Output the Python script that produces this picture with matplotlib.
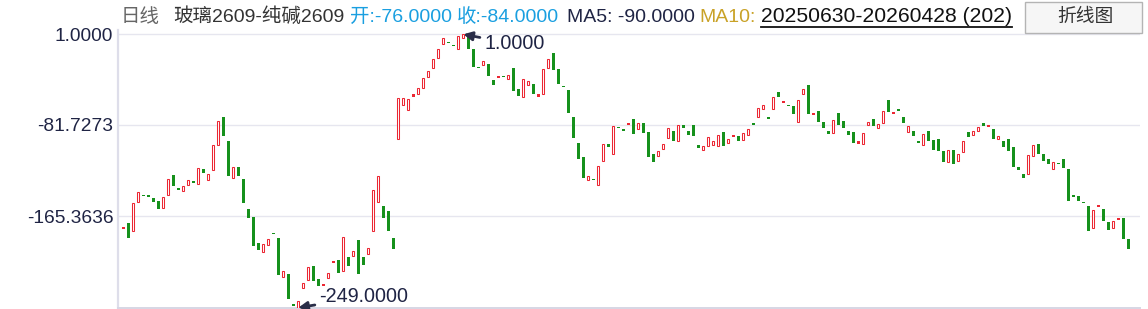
import matplotlib
matplotlib.use('Agg')
import matplotlib.pyplot as plt
from matplotlib.patches import Rectangle
from matplotlib.lines import Line2D

# ---------------- data ----------------
opens = [-177, -172, -179, -152, -146, -146, -149, -151, -158, -146,
         -128, -141, -142, -137, -133, -136, -122, -132, -123, -100,
         -75, -97, -130, -120, -131, -159, -166, -190, -198, -192,
         -182, -185, -221, -218, -247, -249, -231, -224, -211, -223,
         -229, -222, -208, -205, -215, -203, -202, -187, -203, -200,
         -179, -152, -156, -161, -185, -95, -64, -68, -56, -54,
         -48, -38, -30, -21, -8, -7, -10, -12, -2, -1,
         -12, -30, -27, -26, -41, -39, -37, -40, -30, -49,
         -56, -45, -44, -56, -54, -30, -16, -31, -47, -50,
         -75, -98, -111, -132, -132, -137, -115, -99, -108, -85,
         -87, -82, -76, -86, -80, -88, -108, -110, -104, -94,
         -87, -97, -82, -87, -82, -100, -105, -101, -100, -101,
         -88, -98, -93, -92, -96, -91, -80, -75, -67, -76,
         -67, -52, -62, -65, -65, -79, -54, -45, -73, -69,
         -79, -87, -89, -71, -78, -87, -88, -99, -99, -82,
         -76, -85, -80, -59, -72, -67, -75, -88, -87, -98,
         -100, -87, -96, -95, -106, -116, -105, -115, -107, -88,
         -91, -87, -80, -84, -86, -95, -97, -95, -102, -120,
         -127, -127, -110, -99, -108, -113, -122, -118, -113, -122,
         -146, -147, -153, -156, -176, -157, -159, -171, -176, -169,
         -167, -186]
closes = [-175, -185, -153, -143, -147, -148, -152, -159, -148, -131,
          -138, -141, -138, -132, -135, -121, -126, -127, -100, -78,
          -92, -129, -120, -129, -153, -167, -193, -196, -191, -186,
          -182, -219, -215, -241, -247, -243, -226, -212, -225, -229,
          -227, -217, -206, -217, -184, -211, -197, -218, -210, -194,
          -141, -129, -167, -179, -195, -57, -57, -58, -54, -48,
          -39, -33, -22, -12, -2, -7, -10, -1, 1, -12,
          -29, -30, -23, -37, -45, -37, -38, -36, -51, -55,
          -40, -42, -54, -54, -31, -22, -32, -44, -47, -71,
          -94, -113, -130, -129, -132, -119, -99, -102, -83, -85,
          -87, -80, -90, -80, -89, -111, -116, -106, -99, -85,
          -97, -82, -85, -91, -92, -103, -101, -93, -97, -91,
          -101, -95, -91, -97, -89, -86, -82, -66, -64, -76,
          -56, -56, -60, -65, -72, -59, -49, -72, -71, -79,
          -85, -90, -77, -82, -85, -91, -98, -97, -89, -79,
          -83, -81, -69, -70, -70, -69, -80, -83, -92, -98,
          -90, -97, -105, -106, -116, -105, -118, -108, -97, -93,
          -87, -84, -83, -82, -95, -92, -102, -106, -120, -123,
          -130, -109, -100, -108, -115, -118, -116, -118, -121, -151,
          -148, -151, -153, -179, -160, -155, -170, -178, -170, -167,
          -186, -195]
ytick_values = [1.0, -81.7273, -165.3636]
ytick_labels = ['1.0000', '-81.7273', '-165.3636']
max_index, max_value, max_label = 68, 1.0, '1.0000'
min_index, min_value, min_label = 35, -249.0, '-249.0000'
header_parts = [
    ('日线', '#666666'),
    ('玻璃2609-纯碱2609', '#333333'),
    ('开:-76.0000', '#1a9fe0'),
    ('收:-84.0000', '#1a9fe0'),
    ('MA5: -90.0000', '#1f2444'),
    ('MA10:', '#c9a227'),
]
date_range = '20250630-20260428 (202)'
button_label = '折线图'

# ---------------- figure ----------------
W, H = 1148, 309
fig = plt.figure(figsize=(W / 100, H / 100), dpi=100)
FONT = ['Liberation Sans', 'Noto Sans CJK SC', 'DejaVu Sans']
plt.rcParams['font.family'] = FONT

RED = '#ec2733'
GREEN = '#16911c'
TXT = '#1f2444'

ax_left, ax_right, ax_top, ax_bot = 117.5, 1140, 30, 308
ax = fig.add_axes([ax_left / W, 1 - ax_bot / H, (ax_right - ax_left) / W, (ax_bot - ax_top) / H])

x0_px, step_px = 123.3, 5.0
ax.set_xlim((ax_left - x0_px) / step_px, (ax_right - x0_px) / step_px)
upp = 0.9144  # units per pixel
ax.set_ylim(-249.0 - 0.3 * upp, 1.0 + (34.3 - ax_top) * upp)

n = len(opens)
xs = list(range(n))
hol_x, hol_b, hol_h = [], [], []
fil_x, fil_b, fil_h, fil_c = [], [], [], []
for i, (o, c) in enumerate(zip(opens, closes)):
    if c > o and c - o >= 3:
        hol_x.append(i); hol_b.append(o); hol_h.append(c - o)
    else:
        lo = min(o, c); h = abs(c - o)
        h = max(h, 1.1)
        fil_x.append(i); fil_b.append(lo); fil_h.append(h)
        fil_c.append(RED if c > o else GREEN)

ax.bar(fil_x, fil_h, bottom=fil_b, width=0.62, color=fil_c, linewidth=0, zorder=3)
ax.bar(hol_x, hol_h, bottom=hol_b, width=0.42, facecolor='white', edgecolor=RED,
       linewidth=0.75, zorder=3)

ax.set_yticks(ytick_values)
ax.set_yticklabels(ytick_labels)
ax.set_xticks([])
ax.tick_params(axis='y', length=0, pad=3, labelsize=13.8, labelcolor=TXT)
ax.grid(axis='y', color='#e6e6ef', linewidth=1.0, zorder=0)
for s in ['top', 'right']:
    ax.spines[s].set_visible(False)
ax.spines['left'].set_color('#dedeea')
ax.spines['left'].set_linewidth(1.6)
ax.spines['bottom'].set_color('#d6d6e4')
ax.spines['bottom'].set_linewidth(1.4)

def px_to_data(px, py):
    return (px - x0_px) / step_px, 1.0 - (py - 34.3) * upp

arrow = dict(arrowstyle='-|>', color='#2a2d48', lw=2.0, mutation_scale=13,
             shrinkA=1, shrinkB=0)
tx, ty = px_to_data(484, 44)
ax.annotate(max_label, xy=(max_index, max_value), xytext=(tx, ty), fontsize=14.2,
            color=TXT, ha='left', va='center', arrowprops=arrow, zorder=5,
            annotation_clip=False)
tx, ty = px_to_data(319, 297)
ax.annotate(min_label, xy=(min_index, min_value), xytext=(tx, ty), fontsize=14.2,
            color=TXT, ha='left', va='center', arrowprops=arrow, zorder=5,
            annotation_clip=False)

# ---------------- header ----------------
hx = [121, 173, 350, 457, 567, 699]
hy = 1 - 17 / H
for (txt, col), x in zip(header_parts, hx):
    fig.text(x / W, hy, txt, color=col, fontsize=14.0, ha='left', va='center')
dt = fig.text(761 / W, hy, date_range, color='#111111', fontsize=15.2, ha='left', va='center')

btn = Rectangle((1025 / W, 1 - 33 / H), (1142 - 1025) / W, 31 / H, transform=fig.transFigure,
                facecolor='#f6f6f6', edgecolor='#b4b4b4', linewidth=1.0)
fig.patches.append(btn)
fig.text(1085 / W, hy, button_label, color='#333333', fontsize=13.5, ha='center', va='center')

fig.canvas.draw()
bb = dt.get_window_extent()
uy = 1 - 27 / H
fig.add_artist(Line2D([bb.x0 / W, bb.x1 / W], [uy, uy], transform=fig.transFigure,
                      color='#111111', linewidth=1.3))

fig.savefig('out.png', dpi=100, facecolor='white')
